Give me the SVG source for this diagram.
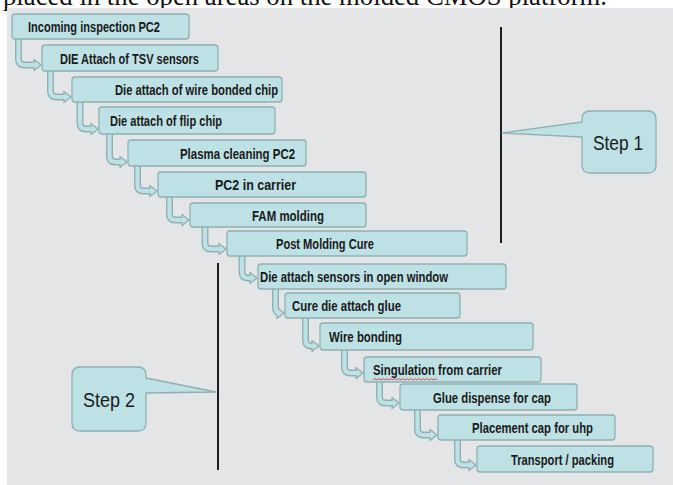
<svg xmlns="http://www.w3.org/2000/svg" width="673" height="485" viewBox="0 0 673 485">
<style>
.bg{fill:#e4e5e7}
.box{fill:#bde1e4;stroke:#8fb0b3;stroke-width:1.3}
.lbl{font-family:"Liberation Sans Narrow","Liberation Sans",Arial,sans-serif;font-weight:bold;font-size:15px;fill:#1a1a1a}
.ao{fill:none;stroke:#8fb0b3;stroke-width:7}
.ai{fill:none;stroke:#bde1e4;stroke-width:4.2}
.ah{fill:#bde1e4;stroke:#8fb0b3;stroke-width:1.3;stroke-linejoin:round}
.vline{stroke:#1e1e1e;stroke-width:2}
.call{fill:#bde1e4;stroke:#8fb0b3;stroke-width:1.3;stroke-linejoin:round}
.step{font-family:"Liberation Sans",Arial,sans-serif;font-size:21px;fill:#1a1a1a}
.cap{font-family:"Liberation Serif","Times New Roman",serif;font-size:27px;fill:#111}
</style>
<rect width="673" height="485" fill="#ffffff"/>
<text class="cap" x="3" y="5" textLength="604" lengthAdjust="spacingAndGlyphs">placed in the open areas on the molded CMOS platform.</text>
<rect class="bg" x="7" y="8" width="666" height="477"/>

<g id="connectors">
<path class="ao" d="M18.5,39 V59 Q18.5,65 24.5,65 H35"/>
<polygon class="ah" points="34,59.5 41,65 34,70.5"/>
<path class="ai" d="M18.5,39 V59 Q18.5,65 24.5,65 H36"/>
<path class="ao" d="M50.5,71 V91 Q50.5,97 56.5,97 H64"/>
<polygon class="ah" points="64,91.5 71,97 64,102.5"/>
<path class="ai" d="M50.5,71 V91 Q50.5,97 56.5,97 H66"/>
<path class="ao" d="M80,102 V123 Q80,129 86,129 H91"/>
<polygon class="ah" points="91,123.5 98,129 91,134.5"/>
<path class="ai" d="M80,102 V123 Q80,129 86,129 H93"/>
<path class="ao" d="M109.5,134 V156 Q109.5,162 115.5,162 H120"/>
<polygon class="ah" points="120,156.5 127,162 120,167.5"/>
<path class="ai" d="M109.5,134 V156 Q109.5,162 115.5,162 H122"/>
<path class="ao" d="M137.5,166 V185 Q137.5,191 143.5,191 H150"/>
<polygon class="ah" points="150,185.5 157,191 150,196.5"/>
<path class="ai" d="M137.5,166 V185 Q137.5,191 143.5,191 H152"/>
<path class="ao" d="M169.5,197 V214 Q169.5,220 175.5,220 H182"/>
<polygon class="ah" points="182,214.5 189,220 182,225.5"/>
<path class="ai" d="M169.5,197 V214 Q169.5,220 175.5,220 H184"/>
<path class="ao" d="M205,227 V243 Q205,249 211,249 H219"/>
<polygon class="ah" points="219,243.5 226,249 219,254.5"/>
<path class="ai" d="M205,227 V243 Q205,249 211,249 H221"/>
<path class="ao" d="M242,256 V272 Q242,278 248,278 H250"/>
<polygon class="ah" points="250,272.5 257,278 250,283.5"/>
<path class="ai" d="M242,256 V272 Q242,278 248,278 H252"/>
<path class="ao" d="M275.5,289 V307 Q275.5,313 280,313"/>
<polygon class="ah" points="277,307.5 284,313 277,318.5"/>
<path class="ai" d="M275.5,289 V307 Q275.5,313 279,313"/>
<path class="ao" d="M305.5,318 V340 Q305.5,346 311.5,346 H312"/>
<polygon class="ah" points="312,340.5 319,346 312,351.5"/>
<path class="ai" d="M305.5,318 V340 Q305.5,346 311.5,346 H314"/>
<path class="ao" d="M344.5,350 V367 Q344.5,373 350.5,373 H356"/>
<polygon class="ah" points="356,367.5 363,373 356,378.5"/>
<path class="ai" d="M344.5,350 V367 Q344.5,373 350.5,373 H358"/>
<path class="ao" d="M379.5,382 V397 Q379.5,403 385.5,403 H392"/>
<polygon class="ah" points="392,397.5 399,403 392,408.5"/>
<path class="ai" d="M379.5,382 V397 Q379.5,403 385.5,403 H394"/>
<path class="ao" d="M417.5,410 V429 Q417.5,435 423.5,435 H430"/>
<polygon class="ah" points="430,429.5 437,435 430,440.5"/>
<path class="ai" d="M417.5,410 V429 Q417.5,435 423.5,435 H432"/>
<path class="ao" d="M457.5,440 V459 Q457.5,465 463.5,465 H469"/>
<polygon class="ah" points="469,459.5 476,465 469,470.5"/>
<path class="ai" d="M457.5,440 V459 Q457.5,465 463.5,465 H471"/>
</g>

<g id="n1"><rect class="box" x="12" y="14" width="177" height="25" rx="3"/><text class="lbl" x="28" y="32" textLength="132" lengthAdjust="spacingAndGlyphs">Incoming inspection PC2</text></g>
<g id="n2"><rect class="box" x="42" y="45" width="176" height="26" rx="3"/><text class="lbl" x="60" y="63.5" textLength="139" lengthAdjust="spacingAndGlyphs">DIE  Attach of TSV sensors</text></g>
<g id="n3"><rect class="box" x="72" y="77" width="210" height="25" rx="3"/><text class="lbl" x="115" y="95" textLength="163" lengthAdjust="spacingAndGlyphs">Die attach of wire bonded chip</text></g>
<g id="n4"><rect class="box" x="99" y="107" width="176" height="27" rx="3"/><text class="lbl" x="110" y="126" textLength="112" lengthAdjust="spacingAndGlyphs">Die attach of flip chip</text></g>
<g id="n5"><rect class="box" x="128" y="140" width="178" height="26" rx="3"/><text class="lbl" x="180" y="158.5" textLength="115" lengthAdjust="spacingAndGlyphs">Plasma cleaning PC2</text></g>
<g id="n6"><rect class="box" x="158" y="172" width="208" height="25" rx="3"/><text class="lbl" x="215" y="190" textLength="81" lengthAdjust="spacingAndGlyphs">PC2  in  carrier</text></g>
<g id="n7"><rect class="box" x="190" y="203" width="176" height="24" rx="3"/><text class="lbl" x="252" y="220.5" textLength="72" lengthAdjust="spacingAndGlyphs">FAM molding</text></g>
<g id="n8"><rect class="box" x="227" y="231" width="240" height="25" rx="3"/><text class="lbl" x="276" y="249" textLength="98" lengthAdjust="spacingAndGlyphs">Post Molding Cure</text></g>
<g id="n9"><rect class="box" x="258" y="264" width="248" height="25" rx="3"/><text class="lbl" x="260" y="282" textLength="188" lengthAdjust="spacingAndGlyphs">Die attach sensors  in open window</text></g>
<g id="n10"><rect class="box" x="285" y="293" width="175" height="25" rx="3"/><text class="lbl" x="292" y="311" textLength="109" lengthAdjust="spacingAndGlyphs">Cure die attach glue</text></g>
<g id="n11"><rect class="box" x="320" y="323" width="213" height="27" rx="3"/><text class="lbl" x="329" y="342" textLength="73" lengthAdjust="spacingAndGlyphs">Wire bonding</text></g>
<g id="n12"><rect class="box" x="364" y="357" width="177" height="25" rx="3"/><text class="lbl" x="373" y="375" textLength="129" lengthAdjust="spacingAndGlyphs">Singulation from carrier</text><polyline points="373,380 375,378.5 377,380 379,378.5 381,380 383,378.5 385,380 387,378.5 389,380 391,378.5 393,380 395,378.5 397,380 399,378.5 401,380 403,378.5 405,380 407,378.5 409,380 411,378.5 413,380 415,378.5 417,380 419,378.5 421,380 423,378.5 425,380 427,378.5 429,380 431,378.5 433,380 435,378.5 437,380" fill="none" stroke="#e03030" stroke-width="0.8"/></g>
<g id="n13"><rect class="box" x="400" y="384" width="177" height="26" rx="3"/><text class="lbl" x="433" y="402.5" textLength="118" lengthAdjust="spacingAndGlyphs">Glue dispense for cap</text></g>
<g id="n14"><rect class="box" x="438" y="415" width="177" height="25" rx="3"/><text class="lbl" x="472" y="433" textLength="121" lengthAdjust="spacingAndGlyphs">Placement cap for uhp</text></g>
<g id="n15"><rect class="box" x="477" y="446" width="176" height="26" rx="3"/><text class="lbl" x="511" y="464.5" textLength="103" lengthAdjust="spacingAndGlyphs">Transport / packing</text></g>

<g id="step1">
<line class="vline" x1="501" y1="27" x2="501" y2="243"/>
<path class="call" d="M590,111 H648 Q656,111 656,119 V165 Q656,173 648,173 H590 Q582,173 582,165 V137 L502,133 L582,122 V119 Q582,111 590,111 Z"/>
<text class="step" x="593" y="150" textLength="50" lengthAdjust="spacingAndGlyphs">Step 1</text>
</g>
<g id="step2">
<line class="vline" x1="218" y1="263" x2="218" y2="470"/>
<path class="call" d="M80,367 H138 Q146,367 146,375 V378 L216,392 L146,393 V423 Q146,431 138,431 H80 Q72,431 72,423 V375 Q72,367 80,367 Z"/>
<text class="step" x="83" y="407" textLength="52" lengthAdjust="spacingAndGlyphs">Step 2</text>
</g>
</svg>
